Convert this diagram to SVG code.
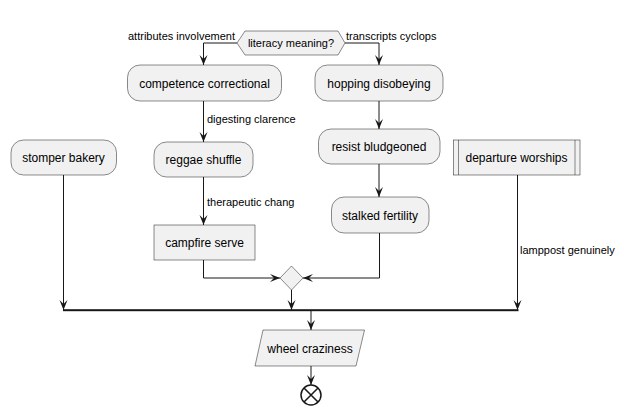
<svg xmlns="http://www.w3.org/2000/svg" width="624" height="415" viewBox="0 0 624 415">
<defs>
<style>
.n{fill:#F1F1F1;stroke:#181818;stroke-width:0.5}
.t{font-family:"Liberation Sans",Arial,sans-serif;font-size:12px;fill:#000;text-anchor:middle}
.l{font-family:"Liberation Sans",Arial,sans-serif;font-size:11px;fill:#000}
.c{fill:none;stroke:#181818;stroke-width:1}
</style>
</defs>
<g id="connectors">
<path class="c" d="M237,43 H203.5 V65"/>
<path class="c" d="M345,43 H379 V65"/>
<path class="c" d="M203.5,101 V142"/>
<path class="c" d="M203.5,177 V225"/>
<path class="c" d="M203.5,260 V278 H280"/>
<path class="c" d="M379,101 V129"/>
<path class="c" d="M379,164 V197"/>
<path class="c" d="M379.5,233 V278 H303"/>
<path class="c" d="M291.5,290 V310"/>
<path class="c" d="M63.5,175 V310"/>
<path class="c" d="M517.5,175 V310"/>
<path class="c" d="M311,311 V330"/>
<path class="c" d="M311,366 V385"/>
<g fill="#181818">
<path d="M203.5,65 l-4,-10 l4,4 l4,-4 z"/>
<path d="M379,65 l-4,-10 l4,4 l4,-4 z"/>
<path d="M203.5,142 l-4,-10 l4,4 l4,-4 z"/>
<path d="M203.5,225 l-4,-10 l4,4 l4,-4 z"/>
<path d="M379,129 l-4,-10 l4,4 l4,-4 z"/>
<path d="M379,197 l-4,-10 l4,4 l4,-4 z"/>
<path d="M280,278 l-10,-4 l4,4 l-4,4 z"/>
<path d="M303,278 l10,-4 l-4,4 l4,4 z"/>
<path d="M291.5,310 l-4,-10 l4,4 l4,-4 z"/>
<path d="M63.5,310 l-4,-10 l4,4 l4,-4 z"/>
<path d="M517.5,310 l-4,-10 l4,4 l4,-4 z"/>
<path d="M311,330 l-4,-10 l4,4 l4,-4 z"/>
<path d="M311,385 l-4,-10 l4,4 l4,-4 z"/>
</g>
<text class="l" x="235" y="40" text-anchor="end">attributes involvement</text>
<text class="l" x="346" y="40">transcripts cyclops</text>
<text class="l" x="207" y="123">digesting clarence</text>
<text class="l" x="207" y="206">therapeutic chang</text>
<text class="l" x="520" y="254">lamppost genuinely</text>
</g>
<g id="decision1">
<polygon class="n" points="237,43 245,31 338,31 345,43 338,55 245,55"/>
<text class="l" x="291" y="47" text-anchor="middle">literacy meaning?</text>
</g>
<g id="competence">
<rect class="n" x="127.5" y="65" width="154" height="36" rx="12.5"/>
<text class="t" x="204.5" y="87.5">competence correctional</text>
</g>
<g id="hopping">
<rect class="n" x="315" y="65" width="128" height="36" rx="12.5"/>
<text class="t" x="379" y="87.5">hopping disobeying</text>
</g>
<g id="reggae">
<rect class="n" x="154" y="142" width="99" height="35" rx="12.5"/>
<text class="t" x="203.5" y="164">reggae shuffle</text>
</g>
<g id="campfire">
<rect class="n" x="154" y="225" width="101" height="35"/>
<text class="t" x="204.5" y="247">campfire serve</text>
</g>
<g id="resist">
<rect class="n" x="318.5" y="129" width="121.5" height="35" rx="12.5"/>
<text class="t" x="379" y="151">resist bludgeoned</text>
</g>
<g id="stalked">
<rect class="n" x="331.5" y="197" width="97.5" height="36" rx="12.5"/>
<text class="t" x="380" y="219.5">stalked fertility</text>
</g>
<g id="stomper">
<rect class="n" x="11" y="140" width="105.5" height="35" rx="12.5"/>
<text class="t" x="63.5" y="162">stomper bakery</text>
</g>
<g id="departure">
<rect class="n" x="453.5" y="140" width="126.5" height="35"/>
<line class="n" x1="458.5" y1="140" x2="458.5" y2="175"/>
<line class="n" x1="575" y1="140" x2="575" y2="175"/>
<text class="t" x="516.5" y="162">departure worships</text>
</g>
<g id="merge">
<polygon class="n" points="291.5,266 303,278 291.5,290 280,278"/>
</g>
<g id="bar">
<rect x="63" y="309.2" width="455.5" height="2" fill="#181818"/>
</g>
<g id="wheel">
<polygon class="n" points="263,330 364.5,330 356,366 255,366"/>
<text class="t" x="310" y="352.5">wheel craziness</text>
</g>
<g id="end">
<circle cx="311" cy="395" r="10" fill="none" stroke="#181818" stroke-width="1.5"/>
<path d="M304,388 L318,402 M318,388 L304,402" stroke="#181818" stroke-width="1.5"/>
</g>
</svg>
